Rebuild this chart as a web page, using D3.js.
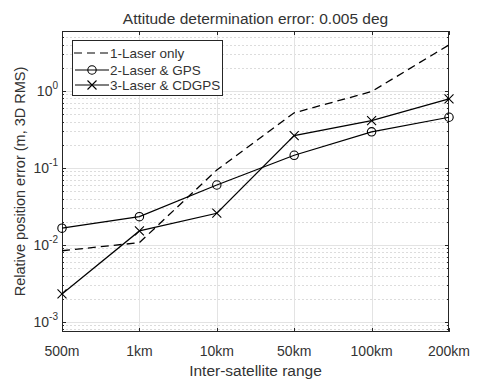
<!DOCTYPE html>
<html><head><meta charset="utf-8">
<script src="https://cdn.jsdelivr.net/npm/d3@7"></script>
<style>
body{margin:0;background:#fff;}
svg text{font-family:"Liberation Sans",Arial,Helvetica,sans-serif;fill:#333;}
</style></head>
<body><svg id="c" width="477" height="384"></svg>
<script>
const categories = ["500m","1km","10km","50km","100km","200km"];
const laserOnly = [0.0084, 0.0107, 0.094, 0.52, 0.98, 3.96];
const laserGPS  = [0.0165, 0.0233, 0.060, 0.146, 0.294, 0.455];
const laserCDGPS= [0.00231, 0.0152, 0.0258, 0.263, 0.411, 0.787];
const seriesNames = ["1-Laser only","2-Laser & GPS","3-Laser & CDGPS"];
const yTickExps = [-3,-2,-1,0];
const yDomain = [7.4e-4, 6.0];

const svg = d3.select("#c");
const L=62, R=449, T=31, B=332;
const x = d3.scalePoint().domain(categories).range([L,R]);
const y = d3.scaleLog().domain(yDomain).range([B,T]);

const minors=[];
for(let e=-4;e<=1;e++) for(let m=2;m<=9;m++){const v=m*Math.pow(10,e); if(v>yDomain[0]&&v<yDomain[1]) minors.push(v);}
const g = svg.append("g");
g.selectAll("line.mg").data(minors).join("line")
 .attr("x1",L).attr("x2",R).attr("y1",d=>Math.round(y(d))+0.5).attr("y2",d=>Math.round(y(d))+0.5)
 .attr("stroke","#dcdcdc").attr("stroke-width",1).attr("stroke-dasharray","2,2");
g.selectAll("line.Mg").data(yTickExps).join("line")
 .attr("x1",L).attr("x2",R).attr("y1",d=>Math.round(y(Math.pow(10,d)))+0.5).attr("y2",d=>Math.round(y(Math.pow(10,d)))+0.5)
 .attr("stroke","#e3e3e3").attr("stroke-width",1);
g.selectAll("line.vg").data(categories.slice(1,-1)).join("line")
 .attr("y1",T).attr("y2",B).attr("x1",d=>Math.round(x(d))+0.5).attr("x2",d=>Math.round(x(d))+0.5)
 .attr("stroke","#e3e3e3").attr("stroke-width",1);

const ax = svg.append("g").attr("stroke","#262626").attr("stroke-width",1);
ax.append("rect").attr("x",L+0.5).attr("y",T+0.5).attr("width",R-L-1).attr("height",B-T-1).attr("fill","none");
const tk=4, mtk=2;
categories.forEach(c=>{
  const xx=Math.round(x(c))+0.5;
  ax.append("line").attr("x1",xx).attr("x2",xx).attr("y1",B).attr("y2",B-tk);
  ax.append("line").attr("x1",xx).attr("x2",xx).attr("y1",T).attr("y2",T+tk);
});
yTickExps.forEach(e=>{
  const yy=Math.round(y(Math.pow(10,e)))+0.5;
  ax.append("line").attr("x1",L).attr("x2",L+tk).attr("y1",yy).attr("y2",yy);
  ax.append("line").attr("x1",R).attr("x2",R-tk).attr("y1",yy).attr("y2",yy);
});
minors.forEach(v=>{
  const yy=Math.round(y(v))+0.5;
  ax.append("line").attr("x1",L).attr("x2",L+mtk).attr("y1",yy).attr("y2",yy);
  ax.append("line").attr("x1",R).attr("x2",R-mtk).attr("y1",yy).attr("y2",yy);
});

svg.selectAll("text.xt").data(categories).join("text")
 .attr("x",d=>x(d)).attr("y",356).attr("text-anchor","middle").attr("font-size",14).text(d=>d);
yTickExps.forEach(e=>{
  const t=svg.append("text").attr("x",58).attr("y",y(Math.pow(10,e))+5).attr("text-anchor","end").attr("font-size",14);
  t.append("tspan").text("10");
  t.append("tspan").attr("dy",-7).attr("font-size",10).text(String(e));
});

svg.append("text").attr("x",(L+R)/2).attr("y",376).attr("text-anchor","middle").attr("font-size",15.5).text("Inter-satellite range");
svg.append("text").attr("transform",`translate(25,${(T+B)/2}) rotate(-90)`).attr("text-anchor","middle").attr("font-size",14.5).text("Relative position error (m, 3D RMS)");
svg.append("text").attr("x",(L+R)/2).attr("y",24).attr("text-anchor","middle").attr("font-size",15.5).text("Attitude determination error: 0.005 deg");

const line = d3.line().x((d,i)=>x(categories[i])).y(d=>y(d));
svg.append("path").datum(laserOnly).attr("d",line).attr("fill","none").attr("stroke","#000").attr("stroke-width",1.3).attr("stroke-dasharray","8,5");
svg.append("path").datum(laserGPS).attr("d",line).attr("fill","none").attr("stroke","#000").attr("stroke-width",1.2);
svg.append("path").datum(laserCDGPS).attr("d",line).attr("fill","none").attr("stroke","#000").attr("stroke-width",1.2);
svg.selectAll("circle.m").data(laserGPS).join("circle")
 .attr("cx",(d,i)=>x(categories[i])).attr("cy",d=>y(d)).attr("r",4.2).attr("fill","none").attr("stroke","#000").attr("stroke-width",1.1);
const xs=4.5;
svg.selectAll("path.xm").data(laserCDGPS).join("path")
 .attr("d",(d,i)=>{const cx=x(categories[i]),cy=y(d);return `M${cx-xs},${cy-xs}L${cx+xs},${cy+xs}M${cx-xs},${cy+xs}L${cx+xs},${cy-xs}`;})
 .attr("stroke","#000").attr("stroke-width",1.1);

const lg=svg.append("g");
lg.append("rect").attr("x",72.5).attr("y",40.5).attr("width",150).attr("height",55).attr("fill","#fff").attr("stroke","#262626");
const rows=[53,70,85];
seriesNames.forEach((n,i)=>{
  const yy=rows[i];
  const l=lg.append("line").attr("x1",75).attr("x2",109).attr("y1",yy).attr("y2",yy).attr("stroke","#000").attr("stroke-width",1.2);
  if(i===0) l.attr("stroke-dasharray","8,5").attr("x1",74);
  if(i===1) lg.append("circle").attr("cx",92).attr("cy",yy).attr("r",4.2).attr("fill","none").attr("stroke","#000").attr("stroke-width",1.1);
  if(i===2) lg.append("path").attr("d",`M${92-xs},${yy-xs}L${92+xs},${yy+xs}M${92-xs},${yy+xs}L${92+xs},${yy-xs}`).attr("stroke","#000").attr("stroke-width",1.1);
  lg.append("text").attr("x",110).attr("y",yy+4.5).attr("font-size",13.5).text(n);
});
</script></body></html>
